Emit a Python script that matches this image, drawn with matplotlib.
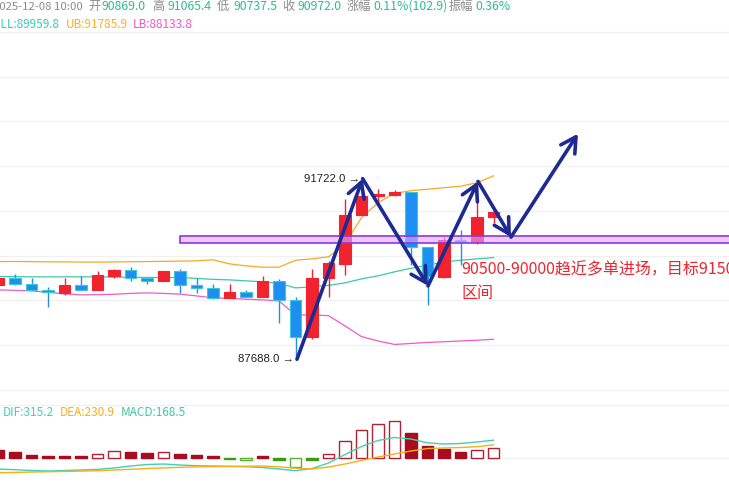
import matplotlib
matplotlib.use("Agg")
import matplotlib.pyplot as plt
from matplotlib.patches import Rectangle
import numpy as np

# ---------------- data ----------------
opens = [89349, 89513, 89365, 89244, 89170, 89349, 89244, 89557, 89685, 89513,
         89439, 89663, 89349, 89276, 89052, 89186, 89081, 89439, 89014, 88179,
         89499, 89819, 90900, 91341, 91363, 91415, 90193, 89535, 90356, 90318,
         90869.0]
highs = [89530, 89589, 89499, 89305, 89513, 89551, 89663, 89707, 89752, 89513,
         89663, 89707, 89499, 89365, 89365, 89238, 89557, 89484, 89088, 89714,
         89893, 91267, 91722, 91491, 91475, 91415, 90193, 90430, 90580, 91549,
         91065.4]
lows = [89330, 89349, 89231, 88864, 89126, 89244, 89244, 89499, 89438, 89378,
        89439, 89164, 89164, 89029, 89052, 89088, 89081, 88492, 87688, 88134,
        89074, 89573, 90900, 91213, 91335, 89797, 88902, 89499, 89797, 90267,
        90737.5]
closes = [89513, 89365, 89231, 89186, 89349, 89244, 89573, 89685, 89499, 89446,
          89663, 89349, 89276, 89052, 89186, 89088, 89439, 89007, 88179, 89499,
          89848, 90916, 91341, 91386, 91415, 90193, 89551, 90356, 90318, 90869.1,
          90972.0]

boll_up = [89870, 89872, 89868, 89865, 89862, 89860, 89858, 89862, 89866, 89870,
           89875, 89880, 89886, 89909, 89819, 89774, 89745, 89745, 89898, 89931,
           89976, 90267, 90849, 91184, 91397, 91453, 91486, 91520, 91553, 91632,
           91785.9]
boll_mid = [89535, 89533, 89528, 89528, 89528, 89528, 89528, 89524, 89519, 89515,
            89513, 89513, 89495, 89472, 89461, 89439, 89417, 89383, 89282, 89305,
            89338, 89394, 89484, 89551, 89640, 89719, 89786, 89864, 89898, 89931,
            89959.8]
boll_low = [89238, 89226, 89215, 89182, 89148, 89126, 89130, 89139, 89159, 89170,
            89159, 89141, 89103, 89059, 89047, 89029, 89014, 88991, 88678, 88674,
            88662, 88432, 88193, 88096, 88018, 88040, 88063, 88078, 88096, 88112,
            88133.8]

dif = [-203, -216, -230, -239, -230, -221, -209, -185, -149, -122,
       -113, -131, -144, -149, -155, -162, -176, -203, -234, -194,
       -95, 58, 202, 310, 364, 337, 268, 247, 256, 283, 315.2]
dea = [-270, -265, -257, -252, -247, -241, -234, -221, -209, -194,
       -184, -173, -164, -160, -157, -153, -149, -164, -189, -203,
       -167, -113, -50, 13, 67, 121, 166, 175, 184, 198, 230.9]
macd = [134, 106, 54, 34, 33, 32, 66, 116, 112, 94,
        106, 74, 54, 32, -30, -44, 33, -32, -166, -44,
        74, 306, 506, 606, 654, 454, 206, 154, 106, 146, 168.5]

# support zone and projected path (candle index, price)
zone_low, zone_high = 90290, 90445
path_x = [18.09, 22.07, 26.03, 29.06, 31.06, 35.12]
path_y = [87688, 91722, 89327, 91661, 90417, 92728]

note_line1 = "90500-90000趋近多单进场，目标91500"
note_line2 = "区间"
timestamp = "2025-12-08 10:00"

# ---------------- figure ----------------
W, H = 729, 486
fig = plt.figure(figsize=(W / 100, H / 100), dpi=100)
fig.patch.set_facecolor("white")

CJK = ["Noto Sans CJK SC", "DejaVu Sans"]


def fx(px):
    return px / W


def fy(py):
    return 1 - py / H


ax = fig.add_axes([0, fy(390), 1, (390 - 32) / H])
axm = fig.add_axes([0, 0, 1, (486 - 405) / H])

n = len(opens)
idx = np.arange(n)
xlim = (1.5 / 16.5, (W + 1.5) / 16.5)
for a in (ax, axm):
    a.set_xlim(*xlim)
    a.axis("off")
ax.set_ylim(87000, 95000)
axm.set_ylim(-509, 949)

grid_c = "#F0F0F0"
for p in range(87000, 95001, 1000):
    ax.axhline(p, color=grid_c, lw=0.9, zorder=0, clip_on=False)
axm.axhline(949, color=grid_c, lw=0.9, zorder=0, clip_on=False)
axm.axhline(0, color=grid_c, lw=0.9, zorder=0)

# Bollinger bands
ax.plot(idx, boll_up, color="#F7A823", lw=0.9, zorder=1.5)
ax.plot(idx, boll_mid, color="#3CCAA4", lw=0.9, zorder=1.5)
ax.plot(idx, boll_low, color="#EB5CC6", lw=0.9, zorder=1.5)

# candles
RED = "#F0232E"
BLUE = "#1E8FF2"
BLUE_EDGE = "#3FC6D6"
o = np.array(opens, float)
c = np.array(closes, float)
hi = np.array(highs, float)
lo = np.array(lows, float)
up = c >= o
wick_cols = [RED if u else BLUE for u in up]
ax.vlines(idx, lo, hi, colors=wick_cols, lw=1.0, zorder=2)
body_h = np.maximum(np.abs(c - o), 25)
body_b = np.minimum(o, c)
ax.bar(idx, body_h, bottom=body_b, width=0.72,
       color=[RED if u else BLUE for u in up],
       edgecolor=[RED if u else BLUE_EDGE for u in up],
       linewidth=0.8, zorder=3)

# support zone
ax.add_patch(Rectangle((11.0, zone_low), 40, zone_high - zone_low,
                       facecolor=(0.84, 0.68, 1.0, 0.6), edgecolor="#9A2FE6",
                       lw=1.2, zorder=4, clip_on=False))

# projected path arrows
for k in range(len(path_x) - 1):
    ax.annotate("", xy=(path_x[k + 1], path_y[k + 1]),
                xytext=(path_x[k], path_y[k]),
                arrowprops=dict(arrowstyle="->,head_length=0.9,head_width=0.5",
                                color="#1C2A92", lw=2.6, shrinkA=0, shrinkB=0,
                                mutation_scale=12),
                zorder=6, annotation_clip=False)

# extreme price markers
hi_i = int(np.argmax(hi))
lo_i = int(np.argmin(lo))
ax.annotate(f"{hi[hi_i]:.1f} →", xy=(path_x[1], hi[hi_i]), xytext=(-2, 0),
            textcoords="offset points", ha="right", va="center",
            fontsize=8.2, family="Liberation Sans", color="#222222", zorder=7)
ax.annotate(f"{lo[lo_i]:.1f} →", xy=(path_x[0], lo[lo_i]), xytext=(-2, 0),
            textcoords="offset points", ha="right", va="center",
            fontsize=8.2, family="Liberation Sans", color="#222222", zorder=7)

# trading note
ax.text(28.03, 89685, note_line1, color="#EE2430", fontsize=11.5, family=CJK,
        ha="left", va="center", zorder=7, clip_on=False)
ax.text(28.03, 89148, note_line2, color="#EE2430", fontsize=11.5, family=CJK,
        ha="left", va="center", zorder=7, clip_on=False)

# MACD histogram
m = np.array(macd, float)
prev = np.concatenate([[np.inf], np.abs(m[:-1])])
hollow = np.abs(m) > prev
fcs, ecs = [], []
for v, h in zip(m, hollow):
    if v >= 0:
        col = "#B22234" if h else "#A80C1E"
    else:
        col = "#5DAF32" if h else "#3A9C12"
    fcs.append("white" if h else col)
    ecs.append(col)
axm.bar(idx, m, width=0.72, color=fcs, edgecolor=ecs, linewidth=1.0, zorder=2)
axm.plot(idx, dif, color="#46CFAE", lw=1.0, zorder=3)
axm.plot(idx, dea, color="#F7AE1A", lw=1.0, zorder=3)

# header
GRAY = "#8C8C8C"
GREEN = "#2DBD8C"
prev_close = closes[-2]
chg = closes[-1] - prev_close
pct = chg / prev_close * 100
amp = (highs[-1] - lows[-1]) / prev_close * 100
fig.text(fx(-7), fy(6.5), timestamp, color=GRAY, fontsize=8.2, family=CJK,
         ha="left", va="center")
line1 = [
    ("开", 88, GRAY), (f"{opens[-1]:.1f}", 102, GREEN),
    ("高", 152, GRAY), (f"{highs[-1]:.1f}", 168, GREEN),
    ("低", 217, GRAY), (f"{lows[-1]:.1f}", 233, GREEN),
    ("收", 282, GRAY), (f"{closes[-1]:.1f}", 297, GREEN),
    ("涨幅", 347, GRAY), (f"{pct:.2f}%({chg:.1f})", 373, GREEN),
    ("振幅", 449, GRAY), (f"{amp:.2f}%", 475, GREEN),
]
for s, x, col in line1:
    fig.text(fx(x), fy(6.5), s, color=col, fontsize=8.8, family=CJK,
             ha="left", va="center")

line2 = [
    (f"BOLL:{boll_mid[-1]:.1f}", -15.5, "#36CFB0"),
    (f"UB:{boll_up[-1]:.1f}", 66, "#FFB020"),
    (f"LB:{boll_low[-1]:.1f}", 133, "#F056C8"),
]
for s, x, col in line2:
    fig.text(fx(x), fy(24.5), s, color=col, fontsize=8.5, family=CJK,
             ha="left", va="center")

line3 = [
    (f"DIF:{dif[-1]:.1f}", 3, "#46CFAE"),
    (f"DEA:{dea[-1]:.1f}", 60, "#F7AE1A"),
    (f"MACD:{macd[-1]:.1f}", 121, "#3CC8A0"),
]
for s, x, col in line3:
    fig.text(fx(x), fy(413), s, color=col, fontsize=8.5, family=CJK,
             ha="left", va="center")

fig.savefig("out.png", dpi=100)
